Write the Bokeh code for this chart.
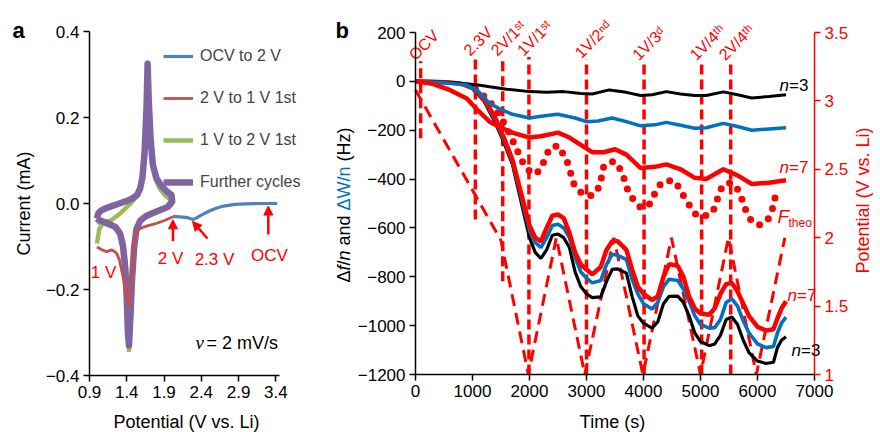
import math
from bokeh.plotting import figure
from bokeh.models import (Range1d, LinearAxis, FixedTicker, CustomJSTickFormatter,
                          Legend, LegendItem, Label, Arrow, NormalHead)
from bokeh.layouts import row
from bokeh.embed import file_html
from bokeh.resources import INLINE
from bokeh.core.properties import value

FONT = "Liberation Sans"
RED = "#ff0000"

# ---------------- Panel a data (CV) ----------------
ocv_V = [3.42, 3.2, 3.0, 2.85, 2.7, 2.6, 2.5, 2.4, 2.33, 2.29, 2.22, 2.12, 2.02]
ocv_I = [0.0, 0.0, -0.001, -0.002, -0.006, -0.011, -0.018, -0.027, -0.034, -0.037, -0.033, -0.031, -0.030]

red1_V = [2.02, 1.9, 1.8, 1.7, 1.62, 1.56, 1.52, 1.49, 1.47, 1.45, 1.43, 1.415, 1.39, 1.35, 1.3, 1.26, 1.2, 1.13, 1.07, 1.0]
red1_I = [-0.031, -0.040, -0.046, -0.051, -0.055, -0.060, -0.07, -0.10, -0.15, -0.20, -0.24, -0.235, -0.21, -0.17, -0.13, -0.115, -0.108, -0.112, -0.108, -0.101]

grn_V = [1.0, 1.03, 1.08, 1.18, 1.32, 1.45, 1.52, 1.58, 1.62, 1.65, 1.68, 1.71, 1.74, 1.78, 1.84, 1.92, 2.0,
         2.0, 1.9, 1.8, 1.7, 1.62, 1.56, 1.52, 1.49, 1.46, 1.44, 1.43, 1.42, 1.40, 1.38, 1.35, 1.3, 1.22, 1.12, 1.03, 1.0]
grn_I = [-0.093, -0.06, -0.045, -0.04, -0.022, 0.0, 0.015, 0.035, 0.08, 0.16, 0.325, 0.17, 0.10, 0.06, 0.035, 0.018, 0.007,
         -0.003, -0.012, -0.02, -0.028, -0.035, -0.045, -0.07, -0.12, -0.2, -0.29, -0.345, -0.3, -0.2, -0.13, -0.085, -0.065, -0.055, -0.048, -0.044, -0.043]

pur_V = [1.0, 1.02, 1.06, 1.12, 1.2, 1.3, 1.4, 1.48, 1.54, 1.58, 1.61, 1.64, 1.665, 1.68, 1.695, 1.72, 1.75, 1.8, 1.87, 1.94, 2.0,
         2.01, 1.95, 1.85, 1.75, 1.65, 1.58, 1.53, 1.50, 1.47, 1.45, 1.43, 1.415, 1.40, 1.38, 1.35, 1.31, 1.25, 1.17, 1.08, 1.02, 1.0]
pur_I = [-0.035, -0.022, -0.016, -0.011, -0.006, 0.0, 0.006, 0.012, 0.02, 0.035, 0.06, 0.12, 0.22, 0.325, 0.24, 0.15, 0.09, 0.058, 0.04, 0.028, 0.02,
         0.005, -0.008, -0.015, -0.022, -0.03, -0.04, -0.06, -0.1, -0.18, -0.26, -0.33, -0.3, -0.22, -0.15, -0.1, -0.07, -0.055, -0.048, -0.042, -0.038, -0.035]

a_xticks = [0.9, 1.4, 1.9, 2.4, 2.9, 3.4]
a_yticks = [-0.4, -0.2, 0.0, 0.2, 0.4]
legend_labels = ["OCV to 2 V", "2 V to 1 V 1st", "1 V to 2 V 1st", "Further cycles"]

# ---------------- Panel b data (EQCM) ----------------
bt_t = [0, 300, 600, 900, 1100, 1300, 1600, 2000, 2300, 2600, 2900, 3100, 3400, 3700, 3950, 4150, 4400, 4650, 4900, 5100, 5400, 5650, 5900, 6200, 6500]
bt_v = [0, -2, -5, -10, -15, -22, -32, -42, -45, -42, -50, -52, -35, -45, -58, -55, -42, -52, -58, -58, -43, -55, -68, -62, -55]

ut_t = [0, 300, 600, 900, 1100, 1300, 1500, 1700, 2000, 2300, 2500, 2800, 3000, 3200, 3450, 3700, 3950, 4200, 4400, 4650, 4900, 5100, 5400, 5650, 5900, 6200, 6500]
ut_v = [0, -3, -8, -15, -40, -90, -115, -135, -150, -140, -135, -150, -165, -162, -150, -165, -182, -178, -168, -180, -192, -190, -172, -185, -200, -195, -190]

rt_t = [0, 300, 600, 900, 1100, 1300, 1500, 1700, 2000, 2200, 2500, 2700, 2900, 3100, 3300, 3500, 3700, 3950, 4200, 4400, 4650, 4900, 5100, 5400, 5650, 5900, 6200, 6500]
rt_v = [0, -10, -35, -70, -120, -165, -190, -210, -230, -225, -210, -230, -260, -290, -290, -278, -300, -355, -350, -340, -360, -395, -400, -360, -385, -420, -415, -405]

big_t = [0, 300, 600, 800, 1000, 1200, 1400, 1550, 1700, 1800, 1900, 2000, 2100, 2200, 2300, 2400, 2500, 2600, 2700, 2800,
         2900, 3000, 3100, 3250, 3350, 3450, 3550, 3700, 3800, 3900, 4000, 4150, 4250, 4350, 4450, 4600, 4700, 4800, 4900, 5000,
         5150, 5250, 5350, 5450, 5550, 5650, 5750, 5850, 6000, 6150, 6280, 6350, 6420, 6500]
big_black = [0, -2, -5, -10, -30, -80, -170, -250, -340, -440, -540, -640, -700, -725, -690, -630, -625, -640, -680, -780,
             -840, -870, -885, -882, -820, -770, -768, -785, -880, -960, -990, -1010, -985, -910, -880, -879, -905, -960, -1030, -1065,
             -1082, -1075, -1040, -975, -965, -995, -1060, -1110, -1145, -1155, -1150, -1090, -1060, -1045]
big_blue = [0, -2, -5, -10, -28, -75, -160, -240, -330, -420, -520, -610, -660, -680, -640, -590, -585, -600, -640, -720,
            -780, -805, -825, -815, -750, -708, -712, -730, -810, -870, -910, -932, -905, -840, -810, -815, -850, -900, -960, -995,
            -1010, -1008, -975, -905, -890, -920, -980, -1030, -1075, -1090, -1085, -1030, -990, -965]
big_red = [0, -2, -5, -10, -25, -70, -150, -230, -320, -410, -500, -590, -640, -655, -600, -550, -545, -560, -620, -700,
           -750, -770, -790, -760, -690, -655, -655, -690, -770, -840, -870, -895, -880, -800, -748, -755, -800, -880, -930, -950,
           -955, -930, -870, -830, -825, -860, -910, -960, -1005, -1020, -1015, -970, -930, -900]

ft_t = [1050, 1150, 1300, 1450, 1600, 1750, 1900, 2050, 2150, 2250, 2350, 2500, 2650, 2780, 2930, 3100, 3230, 3300, 3400, 3500,
        3620, 3730, 3850, 3960, 4100, 4220, 4300, 4420, 4560, 4680, 4800, 4920, 5050, 5200, 5280, 5320, 5420, 5550, 5680, 5780,
        5900, 6050, 6200, 6280, 6320]
ft_v = [-30, -50, -82, -130, -190, -265, -340, -380, -370, -330, -275, -262, -320, -420, -462, -468, -430, -350, -330, -328,
        -370, -450, -495, -518, -505, -450, -420, -405, -410, -460, -505, -545, -553, -540, -500, -455, -420, -415, -450, -520,
        -575, -588, -560, -510, -460]

pot_t = [0, 1500, 1980, 2470, 2970, 3480, 3990, 4490, 5000, 5490, 5980, 6480]
pot_v = [3.08, 1.98, 1.0, 2.0, 1.0, 2.0, 1.0, 2.0, 1.0, 2.0, 1.0, 2.0]

mark_t = [90, 1050, 1530, 1990, 3000, 4010, 5020, 5530]
mark_top = [82, 100, 100, 100, 90, 82, 82, 82]
mark_bot = [-233, -565, -818, -1200, -1200, -1200, -1200, -1200]
mark_lbl = ["OCV", "2.3V", "2V/1\u02e2\u1d57", "1V/1\u02e2\u1d57", "1V/2\u207f\u1d48", "1V/3\u1d48", "1V/4\u1d57\u02b0", "2V/4\u1d57\u02b0"]

b_xticks = [0, 1000, 2000, 3000, 4000, 5000, 6000, 7000]
b_yticks = [-1200, -1000, -800, -600, -400, -200, 0, 200]
b_rticks = [1, 1.5, 2, 2.5, 3, 3.5]

# ---- pixel helpers (image coordinates) for placing frames and annotations ----
# panel a: 0.9 V at x=89, 3.45 V at x=279; 0.4 mA at y=31, -0.4 mA at y=375
def ax(X): return 0.9 + (X - 89) * 2.55 / 190
def ay(Y): return 0.4 - (Y - 31) * 0.8 / 344
# panel b: 0 s at x=415, 7000 s at x=814; 200 Hz at y=32, -1200 Hz at y=374
def bx(X): return (X - 415) * 7000 / 399
def by(Y): return 200 - (Y - 32) * 1400 / 342
def bpot(Y): return 3.5 - (Y - 32) * 2.5 / 342

W1, W2, H = 308, 572, 432


def style_axis(axis, color="black", size="17px"):
    axis.axis_line_color = color
    axis.axis_line_width = 1.5
    axis.major_tick_line_color = color
    axis.major_tick_line_width = 1.5
    axis.major_tick_out = 6
    axis.major_tick_in = 0
    axis.minor_tick_line_color = None
    axis.major_label_text_font = FONT
    axis.major_label_text_font_size = size
    axis.major_label_text_color = color
    axis.major_label_standoff = 4


def lab(p, x, y, text, size="18px", color="black", align="left", base="alphabetic",
        angle=0.0, style="normal", font=FONT):
    p.add_layout(Label(x=x, y=y, text=text, text_font=font, text_font_size=size,
                       text_color=color, text_align=align, text_baseline=base,
                       angle=angle, text_font_style=style))

# ---------------- Panel a ----------------
p1 = figure(width=W1, height=H, output_backend="svg", toolbar_location=None,
            x_range=Range1d(ax(0), ax(W1)), y_range=Range1d(ay(H), ay(0)),
            min_border=0)
p1.outline_line_color = None
p1.grid.grid_line_color = None
p1.xaxis.ticker = FixedTicker(ticks=a_xticks)
p1.yaxis.ticker = FixedTicker(ticks=a_yticks)
p1.xaxis.formatter = CustomJSTickFormatter(code="return tick.toFixed(1)")
p1.yaxis.formatter = CustomJSTickFormatter(code="return (tick < -1e-9 ? '\u2212' : '') + Math.abs(tick).toFixed(1)")
p1.xaxis.fixed_location = -0.4
p1.yaxis.fixed_location = 0.9
p1.xaxis.bounds = (0.9, 3.45)
p1.yaxis.bounds = (-0.4, 0.4)
style_axis(p1.xaxis[0])
style_axis(p1.yaxis[0])

r_grn = p1.line(grn_V, grn_I, line_color="#9bbb59", line_width=4.5)
r_pur = p1.line(pur_V, pur_I, line_color="#8064a2", line_width=6.5, line_join="round")
r_red = p1.line(red1_V, red1_I, line_color="#c0504d", line_width=2.8)
r_blu = p1.line(ocv_V, ocv_I, line_color="#4f81bd", line_width=3.2)

leg = Legend(items=[LegendItem(label=legend_labels[0], renderers=[r_blu]),
                    LegendItem(label=legend_labels[1], renderers=[r_red]),
                    LegendItem(label=legend_labels[2], renderers=[r_grn]),
                    LegendItem(label=legend_labels[3], renderers=[r_pur])],
             location=(163, H - 192), glyph_width=30, glyph_height=20, label_height=20,
             spacing=22, padding=0, margin=0, label_standoff=7,
             border_line_color=None, background_fill_alpha=0,
             label_text_font=FONT, label_text_font_size="16px")
p1.add_layout(leg)

head = dict(size=9, fill_color=RED, line_color=RED)
p1.add_layout(Arrow(end=NormalHead(**head), x_start=2.02, y_start=-0.087, x_end=2.02, y_end=-0.038,
                    line_color=RED, line_width=2.5))
p1.add_layout(Arrow(end=NormalHead(**head), x_start=ax(207), y_start=ay(238), x_end=ax(192), y_end=ay(221),
                    line_color=RED, line_width=2.5))
p1.add_layout(Arrow(end=NormalHead(**head), x_start=3.30, y_start=-0.072, x_end=3.30, y_end=-0.006,
                    line_color=RED, line_width=2.5))
lab(p1, ax(170), ay(258), "2 V", size="17px", color=RED, align="center")
lab(p1, ax(214), ay(259), "2.3 V", size="17px", color=RED, align="center")
lab(p1, ax(269), ay(255), "OCV", size="17px", color=RED, align="center")
lab(p1, ax(103), ay(272), "1 V", size="17px", color=RED, align="center")
lab(p1, ax(195), ay(342), "\u03bd", size="19px", style="italic", font="Liberation Serif")
lab(p1, ax(206), ay(342), "= 2 mV/s", size="18px")
lab(p1, ax(12), ay(30), "a", size="22px", style="bold")
lab(p1, ax(23), ay(203), "Current (mA)", size="18px", align="center", base="middle", angle=math.pi / 2)
lab(p1, ax(186), ay(421), "Potential (V vs. Li)", size="18px", align="center")

# ---------------- Panel b ----------------
p2 = figure(width=W2, height=H, output_backend="svg", toolbar_location=None,
            x_range=Range1d(bx(W1), bx(W1 + W2)), y_range=Range1d(by(H), by(0)),
            min_border=0)
p2.outline_line_color = None
p2.grid.grid_line_color = None
p2.extra_y_ranges = {"pot": Range1d(bpot(H), bpot(0))}
p2.xaxis.ticker = FixedTicker(ticks=b_xticks)
p2.yaxis.ticker = FixedTicker(ticks=b_yticks)
p2.xaxis.formatter = CustomJSTickFormatter(code="return tick.toFixed(0)")
p2.yaxis.formatter = CustomJSTickFormatter(code="return (tick < 0 ? '\u2212' : '') + Math.abs(tick).toFixed(0)")
p2.xaxis.fixed_location = -1200
p2.yaxis.fixed_location = 0
p2.xaxis.bounds = (0, 7000)
p2.yaxis.bounds = (-1200, 200)
style_axis(p2.xaxis[0])
style_axis(p2.yaxis[0])
raxis = LinearAxis(y_range_name="pot", ticker=FixedTicker(ticks=b_rticks),
                   formatter=CustomJSTickFormatter(code="return String(tick)"),
                   fixed_location=7000, bounds=(1, 3.5))
style_axis(raxis, color=RED)
p2.add_layout(raxis, "right")

# marker lines
p2.segment(x0=mark_t, y0=mark_bot, x1=mark_t, y1=mark_top, line_color=RED, line_width=3.5, line_dash="10 5")
p2.text(x=mark_t, y=mark_top, text=mark_lbl, angle=math.pi / 4, text_align="left", text_baseline="middle",
        x_offset=-9, y_offset=-4, text_color=RED, text_font=value(FONT), text_font_size="16px")

# potential
p2.line(pot_t, pot_v, y_range_name="pot", line_color=RED, line_width=3, line_dash="12 7")
# F_theo dotted
p2.line(ft_t, ft_v, line_color=RED, line_width=7, line_dash="0 11", line_cap="round")

# data curves
p2.line(big_t, big_black, line_color="black", line_width=3.2)
p2.line(big_t, big_blue, line_color="#0070c0", line_width=3.6)
p2.line(big_t, big_red, line_color=RED, line_width=4.5)
p2.line(bt_t, bt_v, line_color="black", line_width=3)
p2.line(ut_t, ut_v, line_color="#0070c0", line_width=3.5)
p2.line(rt_t, rt_v, line_color=RED, line_width=4.5)

# curve labels
lab(p2, bx(779), by(85), "n", size="17px", style="italic")
lab(p2, bx(788.5), by(85), "=3", size="17px")
lab(p2, bx(779), by(167), "n", size="17px", style="italic", color=RED)
lab(p2, bx(788.5), by(167), "=7", size="17px", color=RED)
lab(p2, bx(777), by(216), "F", size="19px", style="italic", color=RED)
lab(p2, bx(788), by(222), "theo", size="12px", color=RED)
lab(p2, bx(787), by(295), "n", size="17px", style="italic", color=RED)
lab(p2, bx(796.5), by(295), "=7", size="17px", color=RED)
lab(p2, bx(791), by(350), "n", size="17px", style="italic")
lab(p2, bx(800.5), by(350), "=3", size="17px")

# titles
lab(p2, bx(335), by(30), "b", size="22px", style="bold")
lab(p2, bx(612), by(421), "Time (s)", size="18px", align="center")
lab(p2, bx(862), by(200), "Potential (V vs. Li)", size="18px", color=RED, align="center", base="middle",
    angle=math.pi / 2)
# multi-coloured left axis title, pieces placed bottom-to-top (offsets in px along the text)
ypieces = [("\u0394", 0.0, "normal", "black"), ("f", 12.0, "italic", "black"), ("/", 17.0, "normal", "black"),
           ("n", 22.0, "italic", "black"), ("and", 37.0, "normal", "black"),
           ("\u0394W/n", 72.1, "normal", "#0070c0"), ("(Hz)", 121.1, "normal", "black")]
for txt, off, sty, col in ypieces:
    lab(p2, bx(343), by(282 - off), txt, size="18px", color=col, style=sty, base="middle",
        angle=math.pi / 2)

layout = row(p1, p2)
open("out.html", "w").write(file_html(layout, INLINE))
